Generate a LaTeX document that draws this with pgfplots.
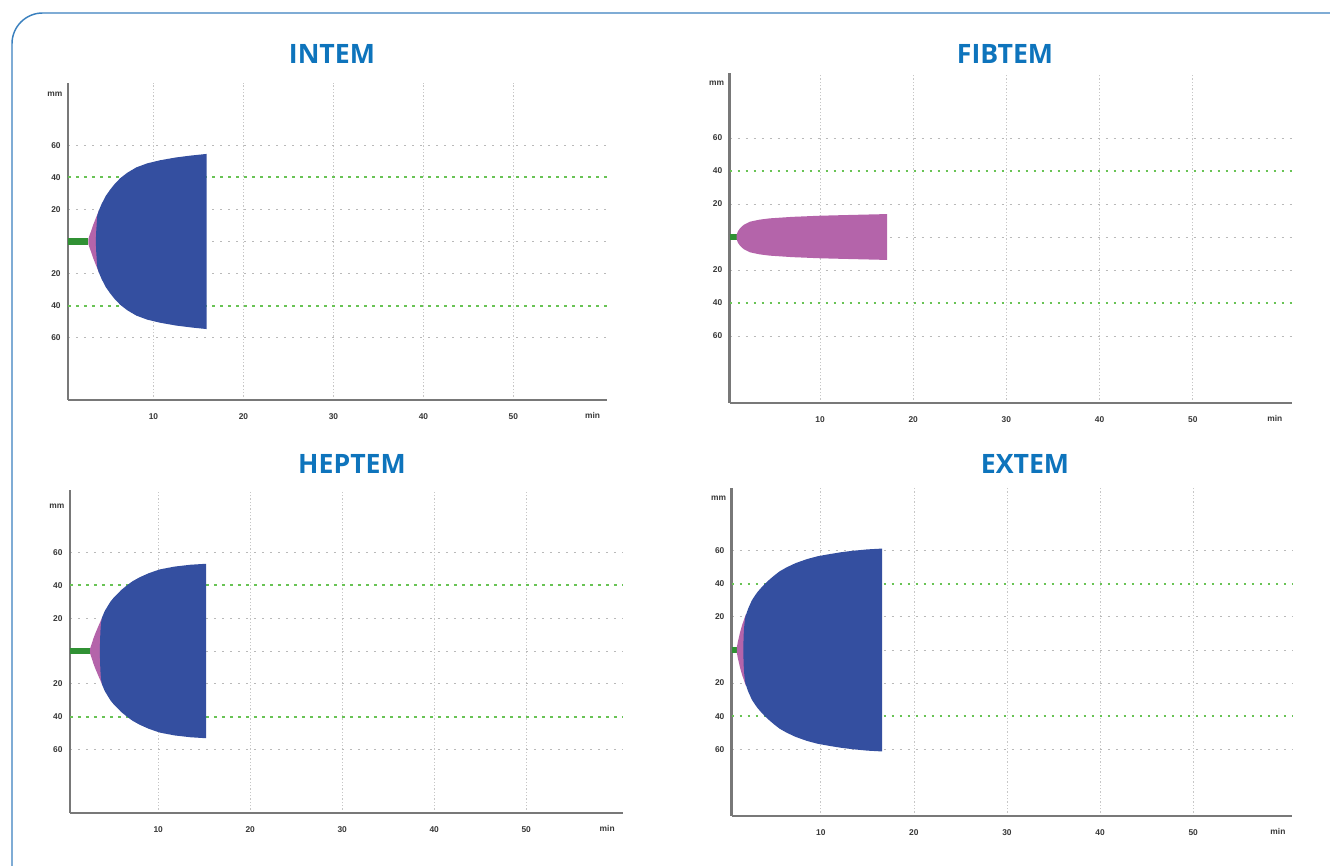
\documentclass[border=0pt]{standalone}
\usepackage{pgfplots}
\pgfplotsset{compat=1.18}
\usepackage{fontspec}
\setmainfont{Liberation Sans}
\newfontfamily\titlefont{Open Sans}

\definecolor{titleblue}{RGB}{14,116,188}
\definecolor{frameblue}{RGB}{58,128,190}
\definecolor{shapeblue}{RGB}{52,79,160}
\definecolor{shapepink}{RGB}{180,100,170}
\definecolor{linegreen}{RGB}{48,145,52}
\definecolor{dotgreen}{RGB}{105,195,85}
\definecolor{dotgray}{RGB}{185,185,185}
\definecolor{axgray}{RGB}{120,120,120}
\definecolor{labgray}{RGB}{55,55,55}

\tikzset{
  lab/.style={font=\fontsize{6.3}{7}\selectfont\bfseries, text=labgray, inner sep=2pt},
  ttl/.style={font=\titlefont\bfseries\fontsize{20}{24}\selectfont, text=titleblue, anchor=base},
}
\pgfplotsset{
  rotem/.style={
    scale only axis, anchor=south west,
    axis lines=left, axis line style={-, draw=axgray, line width=2pt},
    xtick={10,20,30,40,50}, xticklabels={10,20,30,40,50},
    ytick={-60,-20,0,20,60}, yticklabels={60,20,,20,60},
    extra y ticks={-40,40}, extra y tick labels={40,40},
    extra y tick style={ymajorgrids=false, major y grid style={draw=none}},
    xmajorgrids, ymajorgrids,
    major x grid style={dotgray!80, line width=0.5pt, dash pattern=on 1pt off 1.5pt},
    major y grid style={dotgray, line width=0.7pt, dash pattern=on 1.5pt off 4.5pt},
    major tick length=0pt,
    tick label style={font=\fontsize{6.3}{7}\selectfont\bfseries, text=labgray},
    xticklabel style={yshift=-7pt},
    yticklabel style={xshift=-2pt},
    clip=false,
  },
  greenline/.style={dotgreen, line width=1.5pt, dash pattern=on 2pt off 4pt, forget plot},
  ctline/.style={linegreen, line width=5pt, forget plot},
}

\begin{document}
\begin{tikzpicture}
\useasboundingbox (0,0) rectangle (997.5pt,649.5pt);
\begin{scope}
\clip (0,0) rectangle (997.5pt,649.5pt);
\draw[frameblue, line width=1.1pt, rounded corners=23pt] (9pt,-20pt) -- (9pt,639.75pt) -- (1020pt,639.75pt);
\end{scope}

% titles
\node[ttl] at (249pt,602pt) {INTEM};
\node[ttl] at (753.75pt,602pt) {FIBTEM};
\node[ttl] at (264pt,294.4pt) {HEPTEM};
\node[ttl] at (768.75pt,294.4pt) {EXTEM};

% ---------- INTEM ----------
\begin{axis}[rotem, at={(51pt,349.5pt)}, width=404.25pt, height=237.75pt,
  xmin=0.5, xmax=60.4, ymin=-99, ymax=99]
\addplot[greenline] coordinates {(0.5,40) (60.4,40)};
\addplot[greenline] coordinates {(0.5,-40) (60.4,-40)};
\addplot[ctline] coordinates {(0.5,0) (2.76,0)};
\addplot[fill=shapepink, draw=none, forget plot] coordinates {
 (2.76,1.5) (2.9,4) (3.1,7) (3.3,10.4) (3.55,14) (3.95,19.5)
 (3.95,-19.5) (3.55,-14) (3.3,-10.4) (3.1,-7) (2.9,-4) (2.76,-1.5)} -- cycle;
\addplot[fill=shapeblue, draw=none, forget plot] coordinates {
 (3.6,0) (3.62,5) (3.68,10) (3.75,16) (3.9,19) (4.24,23.5) (4.7,28.5) (5.2,32.5) (5.7,36) (6.3,39.5) (7.1,43) (8.1,46.3)
 (9.3,48.8) (10.7,50.7) (12.5,52.5) (14.2,53.7) (15.9,54.7)
 (15.9,-54.7) (14.2,-53.7) (12.5,-52.5) (10.7,-50.7) (9.3,-48.8) (8.1,-46.3) (7.1,-43) (6.3,-39.5) (5.7,-36) (5.2,-32.5)
 (4.7,-28.5) (4.24,-23.5) (3.9,-19) (3.75,-16) (3.68,-10) (3.62,-5)} -- cycle;
\node[lab, anchor=east, xshift=-2pt] at (axis cs:0.5,92) {mm};
\node[lab, anchor=north, yshift=-7pt] at (axis cs:58.8,-99) {min};
\end{axis}

% ---------- FIBTEM ----------
\begin{axis}[rotem, at={(547.2pt,347.25pt)}, width=421.5pt, height=247.5pt,
  xmin=0.3, xmax=60.6, ymin=-100.6, ymax=99.4]
\addplot[greenline] coordinates {(0.3,40) (60.6,40)};
\addplot[greenline] coordinates {(0.3,-40) (60.6,-40)};
\addplot[ctline] coordinates {(0.3,0) (1.06,0)};
\addplot[fill=shapepink, draw=none, forget plot] coordinates {
 (1.06,1.5) (1.2,3.5) (1.42,5.3) (1.8,7.3) (2.5,9.3) (3.5,10.5) (4.6,11.3) (7,12.2) (10,12.9) (13.5,13.4) (17.2,13.9)
 (17.2,-13.9) (13.5,-13.4) (10,-12.9) (7,-12.2) (4.6,-11.3) (3.5,-10.5) (2.5,-9.3) (1.8,-7.3) (1.42,-5.3) (1.2,-3.5) (1.06,-1.5)} -- cycle;
\node[lab, anchor=east, xshift=-2pt] at (axis cs:0.3,93) {mm};
\node[lab, anchor=north, yshift=-7pt] at (axis cs:58.8,-100.6) {min};
\end{axis}

% ---------- HEPTEM ----------
\begin{axis}[rotem, at={(52.4pt,39.75pt)}, width=414.7pt, height=242.25pt,
  xmin=0.4, xmax=60.5, ymin=-98.8, ymax=98.2]
\addplot[greenline] coordinates {(0.4,40) (60.5,40)};
\addplot[greenline] coordinates {(0.4,-40) (60.5,-40)};
\addplot[ctline] coordinates {(0.4,0) (2.6,0)};
\addplot[fill=shapepink, draw=none, forget plot] coordinates {
 (2.6,1.5) (2.75,4) (2.95,7.5) (3.15,10.5) (3.45,14.5) (3.95,21)
 (3.95,-21) (3.45,-14.5) (3.15,-10.5) (2.95,-7.5) (2.75,-4) (2.6,-1.5)} -- cycle;
\addplot[fill=shapeblue, draw=none, forget plot] coordinates {
 (3.66,0) (3.68,6) (3.72,12) (3.78,17) (3.9,20.5) (4.2,24.5) (4.8,30) (5.2,32.8) (5.6,35) (6.0,37.3) (6.6,40) (7.2,42.5) (8.0,45)
 (9,47.5) (10.2,49.8) (11.8,51.5) (13.5,52.6) (15.2,53.2)
 (15.2,-53.2) (13.5,-52.6) (11.8,-51.5) (10.2,-49.8) (9,-47.5) (8.0,-45) (7.2,-42.5) (6.6,-40) (6.0,-37.3) (5.6,-35) (5.2,-32.8)
 (4.8,-30) (4.2,-24.5) (3.9,-20.5) (3.78,-17) (3.72,-12) (3.68,-6)} -- cycle;
\node[lab, anchor=east, xshift=-2pt] at (axis cs:0.4,88) {mm};
\node[lab, anchor=north, yshift=-7pt] at (axis cs:58.8,-98.8) {min};
\end{axis}

% ---------- EXTEM ----------
\begin{axis}[rotem, at={(548.8pt,37.5pt)}, width=420.1pt, height=246pt,
  xmin=0.44, xmax=60.6, ymin=-100.3, ymax=97.9]
\addplot[greenline] coordinates {(0.44,40) (60.6,40)};
\addplot[greenline] coordinates {(0.44,-40) (60.6,-40)};
\addplot[ctline] coordinates {(0.44,0) (0.98,0)};
\addplot[fill=shapepink, draw=none, forget plot] coordinates {
 (0.98,1.5) (1.1,5) (1.22,8) (1.35,11) (1.55,15) (1.95,21.5)
 (1.95,-21.5) (1.55,-15) (1.35,-11) (1.22,-8) (1.1,-5) (0.98,-1.5)} -- cycle;
\addplot[fill=shapeblue, draw=none, forget plot] coordinates {
 (1.69,0) (1.7,5) (1.73,10) (1.79,15) (1.9,20) (2.2,25) (2.6,30) (2.9,32.6) (3.2,35) (3.6,37.6) (4.0,40) (4.5,42.6) (5.0,45)
 (5.6,47.6) (6.35,50) (7.3,52.5) (8.5,54.9) (9.7,56.7) (11,58) (12.2,59.1) (13.5,60) (15,60.8) (16.6,61.3)
 (16.6,-61.3) (15,-60.8) (13.5,-60) (12.2,-59.1) (11,-58) (9.7,-56.7) (8.5,-54.9) (7.3,-52.5) (6.35,-50) (5.6,-47.6) (5.0,-45)
 (4.5,-42.6) (4.0,-40) (3.6,-37.6) (3.2,-35) (2.9,-32.6) (2.6,-30) (2.2,-25) (1.9,-20) (1.79,-15) (1.73,-10) (1.7,-5)} -- cycle;
\node[lab, anchor=east, xshift=-2pt] at (axis cs:0.44,92) {mm};
\node[lab, anchor=north, yshift=-7pt] at (axis cs:59.1,-100.3) {min};
\end{axis}
\end{tikzpicture}
\end{document}
